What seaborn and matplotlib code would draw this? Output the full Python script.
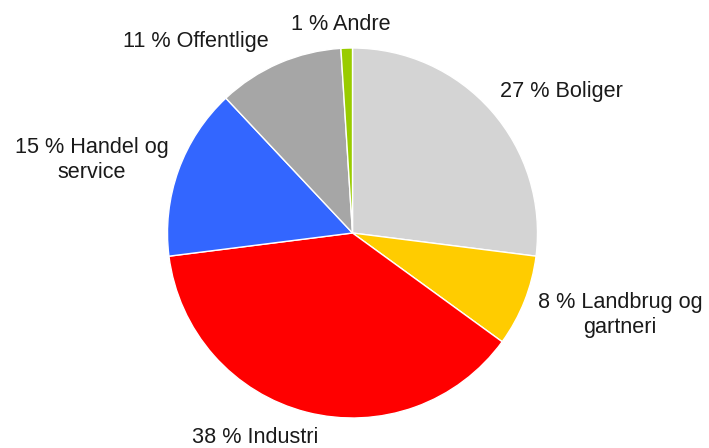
import matplotlib
matplotlib.use("Agg")
import matplotlib.pyplot as plt
import seaborn as sns

# Energy consumption by sector (percent)
sectors = ["Boliger", "Landbrug og\ngartneri", "Industri", "Handel og\nservice", "Offentlige", "Andre"]
shares = [27, 8, 38, 15, 11, 1]
colors = ["#D4D4D4", "#FFCC00", "#FF0000", "#3366FF", "#A6A6A6", "#99CC00"]

# label anchor points in pixels (x centre, baseline y)
label_px = [(561, 97), (620, 308), (255, 443), (92, 153), (196, 47), (341, 30)]

sns.set_theme(style="white")
plt.rcParams["font.family"] = ["Liberation Sans", "DejaVu Sans"]

W, H, DPI = 709, 448, 100
fig = plt.figure(figsize=(W / DPI, H / DPI), dpi=DPI)
ax = fig.add_axes([0, 0, 1, 1])

cx, cy, r = 352.5, 233, 185.0

ax.pie(shares, colors=colors, startangle=90, counterclock=False,
       radius=1.0, center=(0, 0),
       wedgeprops=dict(edgecolor="white", linewidth=1.0))

ax.set_xlim(-cx / r, (W - cx) / r)
ax.set_ylim((cy - H) / r, cy / r)
ax.set_aspect("auto")
ax.axis("off")


def to_data(px, py):
    return (px - cx) / r, (cy - py) / r


for name, val, (px, py) in zip(sectors, shares, label_px):
    lines = f"{val} % {name}".split("\n")
    for i, line in enumerate(lines):
        lx, ly = to_data(px, py + i * 24.5)
        ax.text(lx, ly, line, ha="center", va="baseline",
                fontsize=15.6, color="#1a1a1a")

fig.savefig("out.png", dpi=DPI, facecolor="white")
